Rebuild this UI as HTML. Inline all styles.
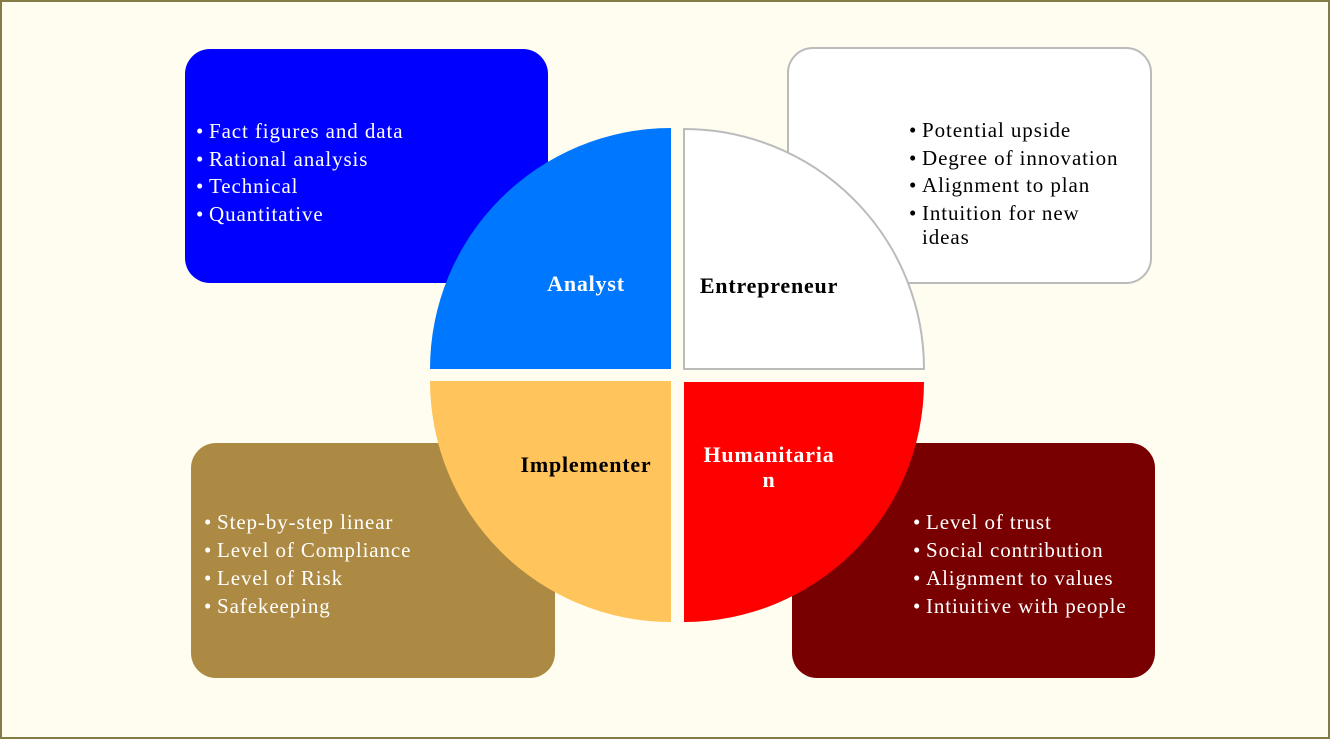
<!DOCTYPE html>
<html><head><meta charset="utf-8"><style>
html,body{margin:0;padding:0;background:#fff;}
svg{display:block;}
text{font-family:"Liberation Serif",serif;}
.b{font-size:21px;letter-spacing:0.9px;}
.l{font-size:22px;font-weight:bold;letter-spacing:0.8px;}
</style></head><body>
<svg width="1331" height="741" viewBox="0 0 1331 741" xmlns="http://www.w3.org/2000/svg">
<rect x="1" y="1" width="1328" height="737" fill="#FFFDF0" stroke="#857B45" stroke-width="2"/>
<rect x="185" y="49" width="363" height="234" rx="25" fill="#0000FF"/>
<rect x="788" y="48" width="363" height="235" rx="25" fill="#FFFFFF" stroke="#BBBBBB" stroke-width="2"/>
<rect x="191" y="443" width="364" height="235" rx="25" fill="#AD8A43"/>
<rect x="792" y="443" width="363" height="235" rx="25" fill="#780000"/>
<path d="M671,369 L430,369 A241,241 0 0 1 671,128 Z" fill="#0077FF"/>
<path d="M684,369 L684,129 A240,240 0 0 1 924,369 Z" fill="#FFFFFF" stroke="#BBBBBB" stroke-width="2"/>
<path d="M671,381 L671,622 A241,241 0 0 1 430,381 Z" fill="#FFC55C"/>
<path d="M684,382 L924,382 A240,240 0 0 1 684,622 Z" fill="#FF0000"/>
<g class="b" fill="#FFFFFF">
<text x="196" y="138">•<tspan x="209">Fact figures and data</tspan></text>
<text x="196" y="166">•<tspan x="209">Rational analysis</tspan></text>
<text x="196" y="193">•<tspan x="209">Technical</tspan></text>
<text x="196" y="221">•<tspan x="209">Quantitative</tspan></text>
</g>
<g class="b" fill="#000000">
<text x="909" y="137">•<tspan x="922">Potential upside</tspan></text>
<text x="909" y="165">•<tspan x="922">Degree of innovation</tspan></text>
<text x="909" y="192">•<tspan x="922">Alignment to plan</tspan></text>
<text x="909" y="220">•<tspan x="922">Intuition for new</tspan></text>
<text x="922" y="244">ideas</text>
</g>
<g class="b" fill="#FFFFFF">
<text x="204" y="529">•<tspan x="217">Step-by-step linear</tspan></text>
<text x="204" y="557">•<tspan x="217">Level of Compliance</tspan></text>
<text x="204" y="585">•<tspan x="217">Level of Risk</tspan></text>
<text x="204" y="613">•<tspan x="217">Safekeeping</tspan></text>
</g>
<g class="b" fill="#FFFFFF">
<text x="913" y="529">•<tspan x="926">Level of trust</tspan></text>
<text x="913" y="557">•<tspan x="926">Social contribution</tspan></text>
<text x="913" y="585">•<tspan x="926">Alignment to values</tspan></text>
<text x="913" y="613">•<tspan x="926">Intiuitive with people</tspan></text>
</g>
<g class="l" text-anchor="middle">
<text x="586" y="291" fill="#FFFFFF">Analyst</text>
<text x="769" y="293" fill="#000000">Entrepreneur</text>
<text x="586" y="472" fill="#000000">Implementer</text>
<text x="769" y="462" fill="#FFFFFF">Humanitaria</text>
<text x="769" y="487" fill="#FFFFFF">n</text>
</g>
</svg>
</body></html>
